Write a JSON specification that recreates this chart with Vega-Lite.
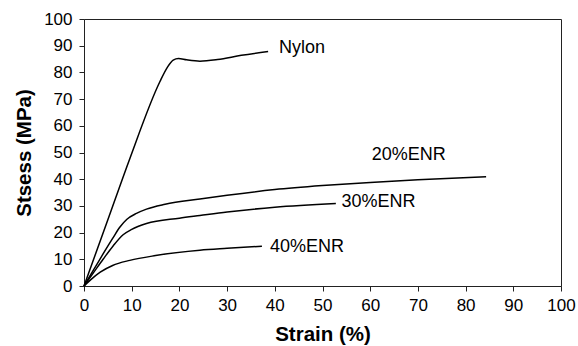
{
  "$schema": "https://vega.github.io/schema/vega-lite/v6.json",
  "width": 477,
  "height": 267,
  "autosize": "none",
  "padding": {"left": 84, "top": 19, "right": 17, "bottom": 60},
  "background": "white",
  "config": {
    "view": {"stroke": "#222", "strokeWidth": 1},
    "font": "Liberation Sans",
    "axis": {
      "domainColor": "#222", "tickColor": "#222", "grid": false,
      "labelFont": "Liberation Sans", "labelFontSize": 17, "labelColor": "#000",
      "titleFont": "Liberation Sans", "titleFontSize": 20.5, "titleFontWeight": "bold", "titleColor": "#000",
      "tickSize": 5, "labelOverlap": false, "labelFlush": false, "labelBound": false
    }
  },
  "datasets": {
    "curves": [
      {"s": "Nylon", "x": 0, "y": 0},
      {"s": "Nylon", "x": 5, "y": 24.8},
      {"s": "Nylon", "x": 9.6, "y": 47.7},
      {"s": "Nylon", "x": 15.9, "y": 76.5},
      {"s": "Nylon", "x": 17.5, "y": 82},
      {"s": "Nylon", "x": 18.7, "y": 84.6},
      {"s": "Nylon", "x": 19.8, "y": 85.2},
      {"s": "Nylon", "x": 21.5, "y": 84.7},
      {"s": "Nylon", "x": 24.3, "y": 84.2},
      {"s": "Nylon", "x": 28, "y": 84.8},
      {"s": "Nylon", "x": 33, "y": 86.4},
      {"s": "Nylon", "x": 38.6, "y": 87.8},
      {"s": "20%ENR", "x": 0, "y": 0},
      {"s": "20%ENR", "x": 2, "y": 6},
      {"s": "20%ENR", "x": 4, "y": 12},
      {"s": "20%ENR", "x": 6, "y": 17.8},
      {"s": "20%ENR", "x": 7.5, "y": 22},
      {"s": "20%ENR", "x": 9, "y": 25},
      {"s": "20%ENR", "x": 11, "y": 27.2},
      {"s": "20%ENR", "x": 13.1, "y": 28.8},
      {"s": "20%ENR", "x": 17, "y": 30.6},
      {"s": "20%ENR", "x": 24.3, "y": 32.6},
      {"s": "20%ENR", "x": 30, "y": 34},
      {"s": "20%ENR", "x": 40, "y": 36.1},
      {"s": "20%ENR", "x": 50, "y": 37.6},
      {"s": "20%ENR", "x": 60, "y": 38.8},
      {"s": "20%ENR", "x": 70, "y": 39.8},
      {"s": "20%ENR", "x": 84.3, "y": 40.9},
      {"s": "30%ENR", "x": 0, "y": 0},
      {"s": "30%ENR", "x": 2, "y": 5},
      {"s": "30%ENR", "x": 4, "y": 10},
      {"s": "30%ENR", "x": 6.1, "y": 15},
      {"s": "30%ENR", "x": 8.2, "y": 19.2},
      {"s": "30%ENR", "x": 10, "y": 21.2},
      {"s": "30%ENR", "x": 13.1, "y": 23.4},
      {"s": "30%ENR", "x": 20, "y": 25.4},
      {"s": "30%ENR", "x": 24.3, "y": 26.4},
      {"s": "30%ENR", "x": 30, "y": 27.7},
      {"s": "30%ENR", "x": 40, "y": 29.5},
      {"s": "30%ENR", "x": 52.8, "y": 30.9},
      {"s": "40%ENR", "x": 0, "y": 0},
      {"s": "40%ENR", "x": 1.5, "y": 2.5},
      {"s": "40%ENR", "x": 3.4, "y": 5.2},
      {"s": "40%ENR", "x": 6, "y": 7.7},
      {"s": "40%ENR", "x": 9.6, "y": 9.6},
      {"s": "40%ENR", "x": 15, "y": 11.4},
      {"s": "40%ENR", "x": 24.3, "y": 13.4},
      {"s": "40%ENR", "x": 30, "y": 14.1},
      {"s": "40%ENR", "x": 37.3, "y": 14.9}
    ],
    "labels": [
      {"t": "Nylon", "x": 40.9, "y": 89},
      {"t": "20%ENR", "x": 60.3, "y": 49},
      {"t": "30%ENR", "x": 54.0, "y": 31.3},
      {"t": "40%ENR", "x": 39.0, "y": 14.6}
    ]
  },
  "encoding": {
    "x": {"field": "x", "type": "quantitative", "scale": {"domain": [0, 100], "nice": false}, "axis": {"title": "Strain (%)", "values": [0,10,20,30,40,50,60,70,80,90,100], "labelOverlap": false, "labelPadding": 6, "titlePadding": 11}},
    "y": {"field": "y", "type": "quantitative", "scale": {"domain": [0, 100], "nice": false}, "axis": {"title": "Stsess (MPa)", "values": [0,10,20,30,40,50,60,70,80,90,100], "labelOverlap": false, "labelPadding": 7, "titlePadding": 9}}
  },
  "layer": [
    {
      "data": {"name": "curves"},
      "mark": {"type": "line", "interpolate": "monotone", "color": "#000", "strokeWidth": 1.5},
      "encoding": {
        "detail": {"field": "s", "type": "nominal"}
      }
    },
    {
      "data": {"name": "labels"},
      "mark": {"type": "text", "align": "left", "baseline": "middle", "fontSize": 18, "font": "Liberation Sans", "color": "#000"},
      "encoding": {
        "text": {"field": "t", "type": "nominal"}
      }
    }
  ]
}
